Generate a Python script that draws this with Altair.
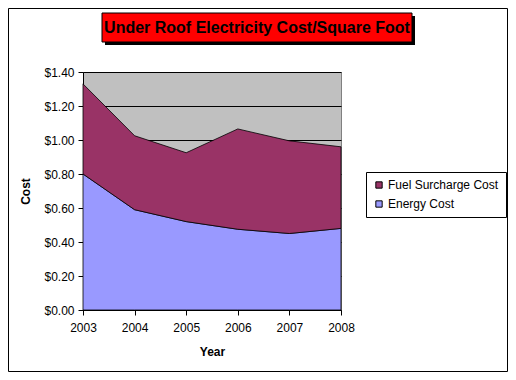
import altair as alt
import pandas as pd

years = [2003, 2004, 2005, 2006, 2007, 2008]
energy = [0.80, 0.59, 0.52, 0.475, 0.45, 0.48]
fuel = [0.53, 0.435, 0.405, 0.59, 0.545, 0.48]
series_names = ["Fuel Surcharge Cost", "Energy Cost"]
series_colors = ["#993366", "#9999FF"]
y_ticks = [0, 0.2, 0.4, 0.6, 0.8, 1.0, 1.2, 1.4]
title_text = "Under Roof Electricity Cost/Square Foot"

rows = []
for yr, e, f in zip(years, energy, fuel):
    rows.append({"Year": yr, "Series": "Energy Cost", "Cost": e, "ord": 0})
    rows.append({"Year": yr, "Series": "Fuel Surcharge Cost", "Cost": f, "ord": 1})
df = pd.DataFrame(rows)

FONT = "Liberation Sans"
W, H = 258, 238
PL, PT = 75, 64
TOTW, TOTH = 500, 364

areas = alt.Chart(df).mark_area(stroke="black", strokeWidth=0.8, opacity=1).encode(
    x=alt.X("Year:Q", scale=alt.Scale(domain=[2003, 2008], nice=False, zero=False),
            axis=alt.Axis(values=years, format="d", title="Year", grid=False,
                          labelFont=FONT, labelFontSize=12, labelColor="black",
                          titleFont=FONT, titleFontSize=12, titleFontWeight="bold",
                          titleColor="black", titlePadding=13, tickSize=5,
                          tickColor="black", domainColor="black", labelPadding=7,
                          labelFlush=False)),
    y=alt.Y("Cost:Q", stack="zero", scale=alt.Scale(domain=[0, 1.4], nice=False),
            axis=alt.Axis(values=y_ticks, format="$.2f", title="Cost", grid=True,
                          gridColor="black", gridWidth=1, gridOpacity=1,
                          labelFont=FONT, labelFontSize=12, labelColor="black",
                          titleFont=FONT, titleFontSize=12, titleFontWeight="bold",
                          titleColor="black", titlePadding=11, tickSize=5,
                          tickColor="black", domainColor="black", labelPadding=4)),
    color=alt.Color("Series:N", scale=alt.Scale(domain=series_names, range=series_colors),
                    legend=alt.Legend(title=None, orient="none", legendX=283, legendY=100,
                                      strokeColor="black", fillColor="white", padding=7,
                                      symbolType="square", symbolSize=40,
                                      symbolStrokeColor="black", symbolStrokeWidth=1,
                                      symbolOpacity=1,
                                      labelFont=FONT, labelFontSize=12, labelColor="black",
                                      rowPadding=7, labelOffset=3)),
    order=alt.Order("ord:Q", sort="ascending"),
)

title_df = pd.DataFrame({"t": [title_text]})
shadow = alt.Chart(title_df).mark_rect(color="black").encode(
    x=alt.value(22), x2=alt.value(332), y=alt.value(-56), y2=alt.value(-27))
box = alt.Chart(title_df).mark_rect(fill="#FF0000", stroke="black", strokeWidth=1).encode(
    x=alt.value(19), x2=alt.value(329), y=alt.value(-59), y2=alt.value(-30))
ttext = alt.Chart(title_df).mark_text(font=FONT, fontSize=16, fontWeight="bold",
                                     color="black", align="center", baseline="middle").encode(
    x=alt.value(174), y=alt.value(-44), text="t:N")
border = alt.Chart(title_df).mark_rect(fill=None, stroke="black", strokeWidth=1).encode(
    x=alt.value(-PL + 0.5), x2=alt.value(TOTW - PL - 0.5),
    y=alt.value(-PT + 0.5), y2=alt.value(TOTH - PT - 0.5))

chart = alt.layer(border, areas, shadow, box, ttext).properties(
    width=W, height=H,
    padding={"left": PL, "top": PT, "right": TOTW - PL - W, "bottom": TOTH - PT - H},
    autosize=alt.AutoSizeParams(type="none"),
    background="white",
).configure_view(fill="#C0C0C0", stroke="#808080", strokeWidth=1)

chart.save("out.html", embed_options={"renderer": "svg", "actions": False})
